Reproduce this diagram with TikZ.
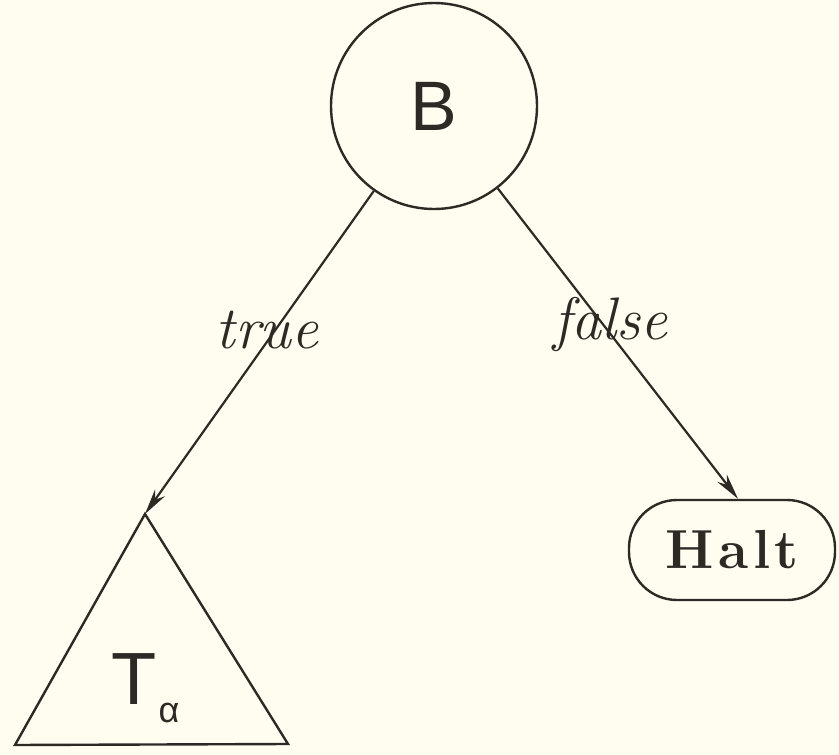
\documentclass[tikz,border=0pt]{standalone}
\usepackage{fontspec}
\newfontfamily\sansf{Liberation Sans}
\usetikzlibrary{arrows.meta}
\definecolor{paper}{RGB}{254,253,240}
\definecolor{ink}{RGB}{45,42,38}
\tikzset{
  edge/.style={draw=ink, line width=2.2pt, -{Stealth[length=26pt,width=12pt]}},
  lbl/.style={font=\fontsize{60}{60}\selectfont\itshape, text=ink},
}
\begin{document}
\begin{tikzpicture}[x=1pt,y=-1pt]
\fill[paper] (0,0) rectangle (839,755);
\useasboundingbox (0,0) rectangle (839,755);
\node[circle, draw=ink, line width=2.4pt, minimum size=206pt, inner sep=0pt,
      font=\sansf\fontsize{70}{70}\selectfont, text=ink] (B) at (434,106) {B};
\node[draw=ink, line width=2.4pt, rounded corners=48pt, minimum width=206pt,
      minimum height=100pt, inner sep=0pt, text=ink,
      font=\bfseries\fontsize{55}{55}\selectfont] (halt) at (732,550) {H\kern5pt a\kern4pt l\kern4pt t};
\coordinate (tapex) at (145,514);
\coordinate (tbl) at (15,745);
\coordinate (tbr) at (288,744);
\draw[ink, line width=2.4pt, line join=miter] (tapex) -- (tbl) -- (tbr) -- cycle;
\node[text=ink, font=\sansf\fontsize{74}{74}\selectfont, inner sep=0pt] (T) at (134,679) {T};
\node[text=ink, font=\sansf\fontsize{36}{36}\selectfont, inner sep=0pt] (alpha) at (169,713) {α};
\draw[edge] (B) -- (tapex);
\draw[edge] (B) -- ([xshift=6pt]halt.north);
\node[lbl] (ltrue) at (267,330) {true};
\node[lbl] (lfalse) at (610,324) {false};
\end{tikzpicture}
\end{document}
